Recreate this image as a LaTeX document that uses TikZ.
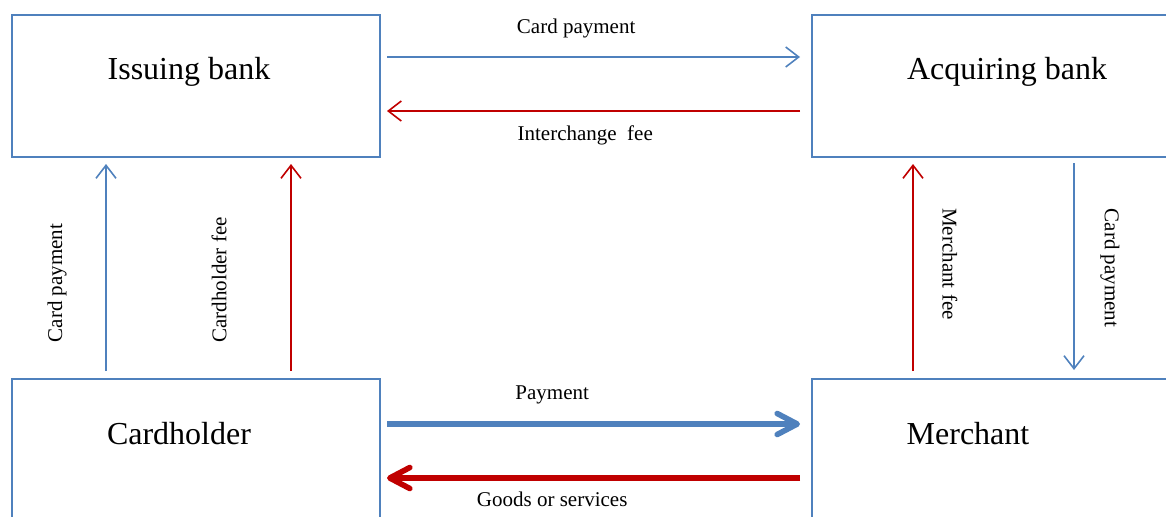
\documentclass[tikz,border=0pt]{standalone}
\usepackage{fontspec}
\setmainfont{Liberation Serif}
\usepackage{xcolor}
\usetikzlibrary{positioning,arrows.meta}

\definecolor{boxblue}{RGB}{79,129,189}
\definecolor{feered}{RGB}{192,0,0}

\begin{document}
\begin{tikzpicture}[
    x=0.5pt, y=-0.5pt,
    every node/.style={font=\fontsize{10.5}{12}\selectfont},
    bankbox/.style={draw=boxblue, line width=1pt, minimum width=184pt, minimum height=71pt, inner sep=0pt, outer sep=0pt},
    boxtext/.style={font=\fontsize{16}{19}\selectfont},
    payarrow/.style={draw=boxblue, line width=0.8pt, -{Straight Barb[length=6.5pt,width=10pt]}},
    feearrow/.style={draw=feered, line width=0.8pt, -{Straight Barb[length=6.5pt,width=10pt]}},
    thickpay/.style={draw=boxblue, line width=2.8pt, -{Straight Barb[length=10pt,width=10.5pt,round]}},
    thickgoods/.style={draw=feered, line width=2.8pt, -{Straight Barb[length=10pt,width=10.5pt,round]}}
]

\useasboundingbox (0,0) rectangle (1166,516);
\clip (0,0) rectangle (1166,516);

% Boxes
\node[bankbox] (issuing) at (196,86) {};
\node[bankbox] (acquiring) at (996,86) {};
\node[bankbox] (cardholder) at (196,450) {};
\node[bankbox] (merchant) at (996,450) {};

\node[boxtext] (issuingtext) at ([shift={(-7,57)}]issuing.north) {Issuing bank};
\node[boxtext] (acquiringtext) at ([shift={(11,57)}]acquiring.north) {Acquiring bank};
\node[boxtext] (cardholdertext) at ([shift={(-17,55)}]cardholder.north) {Cardholder};
\node[boxtext] (merchanttext) at ([shift={(-28,55)}]merchant.north) {Merchant};

% Between the banks
\draw[payarrow] ([shift={(7,42)}]issuing.north east) -- ([shift={(-12,42)}]acquiring.north west)
    node[pos=0.458, yshift=14.5pt] {Card payment};
\draw[feearrow] ([shift={(-12,96)}]acquiring.north west) -- ([shift={(7,96)}]issuing.north east)
    node[pos=0.52, yshift=-12pt] {Interchange\ \ fee};

% Between cardholder and merchant
\draw[thickpay] ([shift={(7,45)}]cardholder.north east) -- ([shift={(-12,45)}]merchant.north west)
    node[pos=0.40, yshift=14.5pt] {Payment};
\draw[thickgoods] ([shift={(-12,99)}]merchant.north west) -- ([shift={(7,99)}]cardholder.north east)
    node[pos=0.60, yshift=-10.5pt] {Goods or services};

% Cardholder side
\draw[payarrow] ([shift={(94,-8)}]cardholder.north west) -- ([shift={(94,7)}]issuing.south west)
    node[pos=0.425, xshift=-24.5pt, rotate=90] {Card payment};
\draw[feearrow] ([shift={(279,-8)}]cardholder.north west) -- ([shift={(279,7)}]issuing.south west)
    node[pos=0.44, xshift=-36pt, rotate=90] {Cardholder fee};

% Merchant side
\draw[feearrow] ([shift={(101,-8)}]merchant.north west) -- ([shift={(101,7)}]acquiring.south west)
    node[pos=0.517, xshift=18.5pt, rotate=-90] {Merchant fee};
\draw[payarrow] ([shift={(262,6)}]acquiring.south west) -- ([shift={(262,-9)}]merchant.north west)
    node[pos=0.507, xshift=18pt, rotate=-90] {Card payment};

\end{tikzpicture}
\end{document}
